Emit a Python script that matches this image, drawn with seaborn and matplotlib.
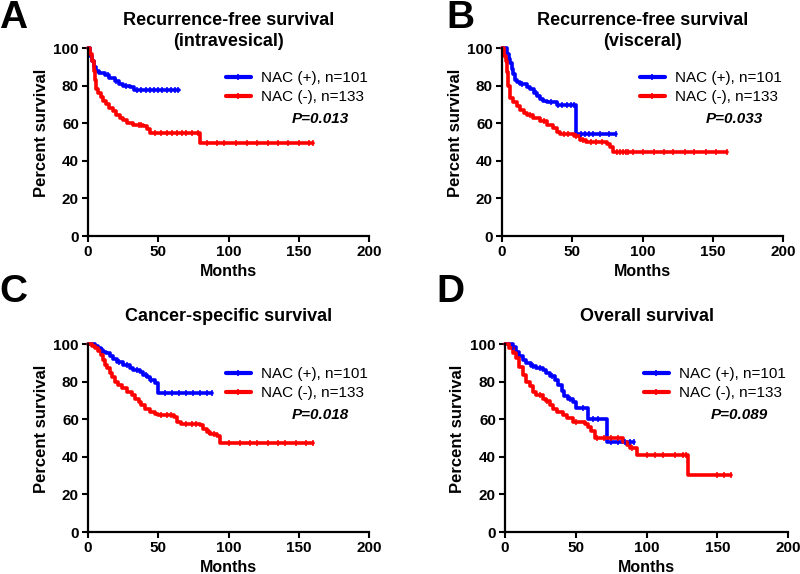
import numpy as np
import pandas as pd
import matplotlib
matplotlib.use("Agg")
import matplotlib.pyplot as plt
from matplotlib.lines import Line2D
import seaborn as sns

# ---- data (months, percent survival) ----
A_pos_t = [0, 1.5, 3, 4, 5.5, 8, 12, 15, 19, 22, 25, 30, 33, 65]
A_pos_s = [100, 96, 93, 90, 88, 86.5, 85.5, 84, 82.5, 81, 80, 79, 77.5, 77.5]
A_pos_c = [14, 20, 27, 35, 38, 41, 44, 47, 50, 53, 56, 59, 62, 64]
A_neg_t = [0, 1.5, 3, 4, 5, 6, 7, 9, 11, 13, 15, 18, 20, 23, 25, 28, 32, 39, 42, 44, 80, 160]
A_neg_s = [100, 97, 93, 88, 83, 78, 76, 74, 72, 70, 68, 66.5, 64.5, 63, 61.5, 60, 59, 58.5, 57, 55, 49.5, 49.5]
A_neg_c = [36, 38, 48, 52, 56, 60, 63, 67, 70, 74, 78, 85, 92, 97, 105, 113, 120, 128, 135, 142, 150, 157, 160]

B_pos_t = [0, 3.5, 5, 6, 7, 8, 9.5, 10.5, 13, 18, 20, 22.5, 25, 27, 29.5, 32, 39, 53, 81]
B_pos_s = [100, 97, 94, 92, 89, 86, 83, 82, 81, 79.5, 78, 76, 74.5, 73, 72, 71.5, 69.5, 54, 54]
B_pos_c = [14, 24, 35, 40, 43, 46, 49, 51, 56, 59, 62, 65, 70, 76, 81]
B_neg_t = [0, 1.5, 2.5, 3.5, 4.5, 6, 8, 10.5, 13, 15.5, 18, 22, 27, 32, 36.5, 39, 41.5, 48.5, 51, 55.5, 60, 74.5, 77, 79, 160]
B_neg_s = [100, 96, 93, 87, 80, 73.5, 71.5, 69, 67, 65.5, 64.5, 62.5, 61, 59, 57.5, 55.5, 54.5, 54, 53, 51, 50, 49, 47.5, 44.5, 44.5]
B_neg_c = [20, 30, 44, 47, 53, 58, 63, 67, 71, 82, 84, 86, 88, 90, 93, 100, 108, 115, 122, 130, 137, 145, 152, 160]

C_pos_t = [0, 5, 7, 9, 11, 13, 15.5, 18, 20.5, 25, 30, 32, 37, 39.5, 42, 44, 47.5, 50, 88]
C_pos_s = [100, 99, 98, 97, 96, 95, 93.5, 92, 90.5, 89, 87, 86, 85, 83.5, 82.5, 81, 79, 74, 74]
C_pos_c = [10, 22, 28, 35, 41, 45, 55, 60, 65, 70, 75, 80, 85, 88]
C_neg_t = [0, 3, 5, 7, 9, 10.5, 12, 13.5, 15.5, 17, 19, 21.5, 24, 27.5, 31, 33.5, 36, 38, 40.5, 44, 47.5, 50,
           61, 63, 66.5, 80, 82, 84.5, 87, 91.5, 94, 160]
C_neg_s = [100, 99, 98, 96.5, 94, 91.5, 89, 87, 84.5, 82.5, 80, 78, 76.5, 74.5, 73, 71, 69, 67.5, 65.5, 64, 63, 62,
           61, 58.5, 57.5, 57, 55, 53, 52, 51, 47.5, 47.5]
C_neg_c = [52, 56, 59, 70, 74, 77, 86, 90, 100, 108, 115, 120, 128, 135, 140, 148, 155, 160]

D_pos_t = [0, 5.5, 8, 10, 12.5, 15, 18.5, 22, 27, 29, 31.5, 35, 37.5, 40, 42, 44.5, 48, 50.5, 59, 72, 91]
D_pos_s = [100, 98.5, 96, 93.5, 91.5, 90, 88.5, 87.5, 86, 84.5, 83, 81, 78, 75, 72.5, 71, 69, 66, 60, 48, 48]
D_pos_c = [6, 20, 25, 33, 46, 55, 62, 66, 75, 80, 85, 88, 91]
D_neg_t = [0, 3, 5.5, 8, 10, 12.5, 15, 17.5, 20, 22, 27, 29, 31.5, 34, 36.5, 41, 43.5, 48, 56.5, 59, 61, 63.5,
           83.5, 86, 88, 93, 129.5, 160]
D_neg_s = [100, 98, 95, 92.5, 88, 83.5, 80, 77.5, 74.5, 73, 71, 69.5, 67.5, 65.5, 64, 62, 60.5, 58.5, 57.5, 56,
           53.5, 50, 48, 46.5, 44.5, 41, 30.5, 30.5]
D_neg_c = [25, 30, 50, 65, 70, 75, 80, 90, 100, 106, 112, 120, 126, 128, 150, 155, 160]

panel_letters = ["A", "B", "C", "D"]
titles = ["Recurrence-free survival\n(intravesical)", "Recurrence-free survival\n(visceral)",
          "Cancer-specific survival", "Overall survival"]
p_values = ["P=0.013", "P=0.033", "P=0.018", "P=0.089"]
labels = ["NAC (+), n=101", "NAC (-), n=133"]
x_ticks = [0, 50, 100, 150, 200]
y_ticks = [0, 20, 40, 60, 80, 100]

curves = [
    [(A_pos_t, A_pos_s, A_pos_c), (A_neg_t, A_neg_s, A_neg_c)],
    [(B_pos_t, B_pos_s, B_pos_c), (B_neg_t, B_neg_s, B_neg_c)],
    [(C_pos_t, C_pos_s, C_pos_c), (C_neg_t, C_neg_s, C_neg_c)],
    [(D_pos_t, D_pos_s, D_pos_c), (D_neg_t, D_neg_s, D_neg_c)],
]
colors = ["#0000ff", "#ff0000"]

sns.set_style("ticks")
plt.rcParams["font.family"] = ["Liberation Sans", "DejaVu Sans"]
plt.rcParams.update({"text.color": "black", "axes.labelcolor": "black", "axes.edgecolor": "black",
                     "xtick.color": "black", "ytick.color": "black"})

fig = plt.figure(figsize=(8, 5.74), dpi=100)
W, H = 800, 574
# axes boxes in pixels: left, top, right, bottom
boxes = [(88, 48, 369, 236), (502, 48, 783, 236), (88, 344, 369, 532), (505, 344, 788, 532)]
letter_pos = [(13, 18), (460, 18), (13, 292), (450, 292)]


def step_value(t, s, c):
    idx = np.searchsorted(t, c, side="right") - 1
    return np.asarray(s)[idx]


for i, (l, t, r, b) in enumerate(boxes):
    ax = fig.add_axes([l / W, 1 - b / H, (r - l) / W, (b - t) / H])
    for (tt, ss, cc), col in zip(curves[i], colors):
        df = pd.DataFrame({"month": tt, "surv": ss})
        sns.lineplot(data=df, x="month", y="surv", drawstyle="steps-post", estimator=None,
                     color=col, lw=2.6, ax=ax, clip_on=False)
        cens = pd.DataFrame({"month": cc, "surv": step_value(tt, ss, cc)})
        sns.scatterplot(data=cens, x="month", y="surv", marker="|", s=20, linewidth=1.1,
                        color=col, ax=ax, clip_on=False, zorder=3)
    ax.set_xlim(0, 200)
    ax.set_ylim(0, 100)
    ax.set_xticks(x_ticks)
    ax.set_yticks(y_ticks)
    ax.tick_params(direction="out", length=4, width=1.5, labelsize=11, pad=2.5)
    for lab in ax.get_xticklabels() + ax.get_yticklabels():
        lab.set_fontweight("bold")
    for sp in ["left", "bottom"]:
        ax.spines[sp].set_linewidth(1.6)
    sns.despine(ax=ax)
    ax.set_xlabel("Months", fontsize=11.5, fontweight="bold")
    ax.set_ylabel("Percent survival", fontsize=12, fontweight="bold")
    ax.xaxis.set_label_coords(0.5, -0.15)
    ax.yaxis.set_label_coords(-0.14, 0.55)

    ax.text(0.5, 1.19, titles[i], transform=ax.transAxes, ha="center", va="top",
            fontsize=13, fontweight="bold", linespacing=1.3)
    handles = [Line2D([], [], color=c, lw=3, marker="|", markersize=4, markeredgewidth=1.2) for c in colors]
    ax.legend(handles, labels, loc="upper left", bbox_to_anchor=(0.47, 0.91), frameon=False,
              fontsize=11, handlelength=1.6, handletextpad=0.7, labelspacing=0.35, borderaxespad=0)
    ax.text(0.93, 0.62, p_values[i], transform=ax.transAxes, ha="right", va="center",
            fontsize=11, fontweight="bold", fontstyle="italic")

    fx, fy = letter_pos[i]
    fig.text(fx / W, 1 - fy / H, panel_letters[i], ha="center", va="center",
             fontsize=28, fontweight="bold")

fig.savefig("out.png", dpi=100)
